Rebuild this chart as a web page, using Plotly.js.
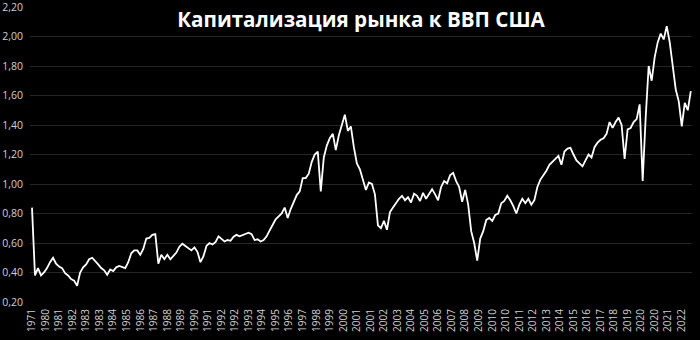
<!DOCTYPE html>
<html>
<head>
<meta charset="utf-8">
<script src="https://cdn.plot.ly/plotly-3.0.1.min.js"></script>
<style>html,body{margin:0;padding:0;background:#000;}#chart{width:700px;height:340px;}</style>
</head>
<body>
<div id="chart"></div>
<script>
const titleText = "Капитализация рынка к ВВП США";

const yearLabels = ["1971","1980","1981","1982","1983","1983","1984","1985","1986","1987",
  "1988","1989","1990","1991","1992","1992","1993","1994","1995","1996",
  "1997","1998","1999","2000","2001","2001","2002","2003","2004","2005",
  "2006","2007","2008","2009","2010","2010","2011","2012","2013","2014",
  "2015","2016","2017","2018","2019","2020","2020","2021","2022"];

const yTickVals = [0.2,0.4,0.6,0.8,1.0,1.2,1.4,1.6,1.8,2.0,2.2];
const yTickText = ["0,20","0,40","0,60","0,80","1,00","1,20","1,40","1,60","1,80","2,00","2,20"];

// Market cap / GDP ratio, sampled evenly along the axis
const ratio = [
  0.84,0.38,0.43,0.38,0.40,0.43,0.47,0.50,0.46,0.44,
  0.43,0.395,0.38,0.355,0.345,0.31,0.40,0.435,0.455,0.49,
  0.50,0.48,0.455,0.43,0.415,0.385,0.42,0.41,0.435,0.445,
  0.44,0.43,0.47,0.53,0.55,0.55,0.52,0.56,0.63,0.635,
  0.655,0.66,0.46,0.52,0.49,0.52,0.49,0.515,0.535,0.575,
  0.595,0.58,0.565,0.55,0.57,0.54,0.47,0.51,0.58,0.60,
  0.59,0.605,0.645,0.63,0.61,0.62,0.615,0.643,0.655,0.645,
  0.655,0.665,0.67,0.66,0.62,0.625,0.61,0.62,0.645,0.685,
  0.725,0.76,0.78,0.80,0.84,0.77,0.83,0.88,0.925,0.95,
  1.04,1.04,1.07,1.15,1.20,1.22,0.95,1.18,1.26,1.31,
  1.34,1.23,1.33,1.40,1.47,1.36,1.39,1.25,1.14,1.10,
  1.03,0.96,1.01,1.00,0.93,0.72,0.70,0.75,0.69,0.81,
  0.84,0.87,0.90,0.92,0.89,0.91,0.875,0.935,0.92,0.885,
  0.94,0.90,0.93,0.965,0.93,0.89,0.98,1.02,1.005,1.06,
  1.075,1.02,0.98,0.88,0.96,0.86,0.68,0.60,0.48,0.63,
  0.68,0.755,0.77,0.75,0.79,0.80,0.87,0.885,0.92,0.89,
  0.85,0.80,0.86,0.90,0.87,0.90,0.86,0.89,0.98,1.03,
  1.06,1.09,1.13,1.15,1.17,1.19,1.13,1.22,1.24,1.245,
  1.20,1.16,1.14,1.12,1.16,1.20,1.18,1.25,1.28,1.30,
  1.31,1.34,1.42,1.38,1.42,1.45,1.40,1.17,1.37,1.38,
  1.42,1.44,1.54,1.02,1.45,1.80,1.70,1.86,1.96,2.02,
  1.98,2.07,1.96,1.80,1.64,1.56,1.39,1.55,1.50,1.63
];

const pointsPerLabel = 4.5;
const xIdx = ratio.map((_, i) => i);
const tickPos = yearLabels.map((_, k) => k * pointsPerLabel);

const trace = {
  x: xIdx, y: ratio, type: 'scatter', mode: 'lines',
  line: {color: '#ffffff', width: 1.8}, hoverinfo: 'skip'
};

const layout = {
  width: 700, height: 340,
  paper_bgcolor: '#000000', plot_bgcolor: '#000000',
  margin: {l: 30, r: 8, t: 7, b: 38, pad: 0},
  showlegend: false,
  title: {
    text: '<b>' + titleText + '</b>',
    x: 0.5, xanchor: 'center', xref: 'paper',
    y: 1 - 20/340, yanchor: 'middle', yref: 'container',
    font: {family: 'Open Sans, sans-serif', size: 20.6, color: '#ffffff'}
  },
  xaxis: {
    range: [-0.66, ratio.length - 0.6],
    tickmode: 'array', tickvals: tickPos, ticktext: yearLabels,
    tickangle: -90, showgrid: false, zeroline: false, showline: false,
    ticks: '', ticklabelstandoff: 4, ticklabeloverflow: 'allow',
    tickfont: {family: 'Open Sans, sans-serif', size: 10, color: '#d0d0d0'}
  },
  yaxis: {
    range: [0.2, 2.2],
    tickmode: 'array', tickvals: yTickVals, ticktext: yTickText,
    gridcolor: '#262626', gridwidth: 1, zeroline: false, showline: false,
    ticks: '', ticklabelstandoff: 6, ticklabeloverflow: 'allow',
    tickfont: {family: 'Open Sans, sans-serif', size: 10.5, color: '#d0d0d0'}
  }
};

Plotly.newPlot('chart', [trace], layout, {staticPlot: true, displayModeBar: false});
</script>
</body>
</html>
